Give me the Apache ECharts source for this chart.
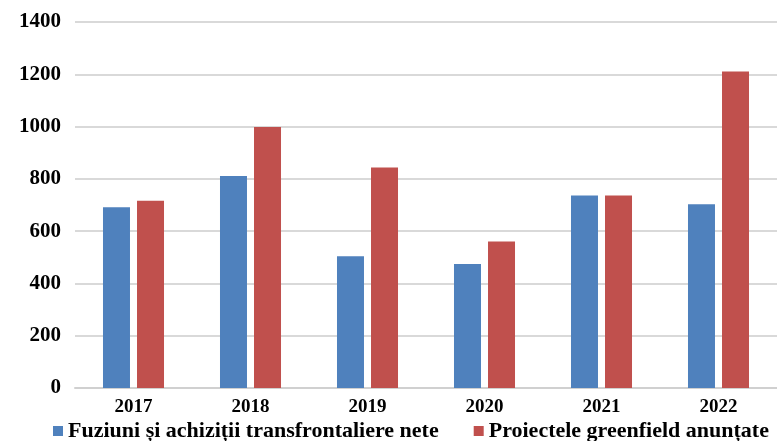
<!DOCTYPE html>
<html>
<head>
<meta charset="utf-8">
<script src="https://cdn.jsdelivr.net/npm/echarts@6/dist/echarts.min.js"></script>
<style>
  html, body { margin: 0; padding: 0; background: #fff; }
  #chart { width: 777px; height: 441px; }
</style>
</head>
<body>
<div id="chart"></div>
<script>
// Date
const years = ["2017", "2018", "2019", "2020", "2021", "2022"];
const fuziuni = [691, 811, 504, 474, 736, 703];
const greenfield = [716, 998, 843, 560, 736, 1211];
const seriesNames = ["Fuziuni și achiziții transfrontaliere nete", "Proiectele greenfield anunțate"];

const fontSerif = "'Liberation Serif', 'Times New Roman', serif";

const chart = echarts.init(document.getElementById("chart"));
chart.setOption({
  animation: false,
  textStyle: { fontFamily: fontSerif },
  grid: { left: 75, width: 705, top: 22, bottom: 53 },
  legend: {
    data: seriesNames,
    left: 48,
    top: 415,
    itemWidth: 10,
    itemHeight: 10,
    itemGap: 35,
    icon: "rect",
    textStyle: { fontFamily: fontSerif, fontWeight: "bold", fontSize: 22, color: "#000" }
  },
  xAxis: {
    type: "category",
    data: years,
    axisLine: { lineStyle: { color: "#d0d0d0", width: 2 } },
    axisTick: { show: false },
    axisLabel: { fontFamily: fontSerif, fontWeight: "bold", fontSize: 19, color: "#000", margin: 10 }
  },
  yAxis: {
    type: "value",
    min: 0,
    max: 1400,
    interval: 200,
    axisLine: { show: false },
    axisTick: { show: false },
    splitLine: { lineStyle: { color: "#d9d9d9", width: 2 } },
    axisLabel: {
      fontFamily: fontSerif, fontWeight: "bold", fontSize: 21, color: "#000", margin: 14,
      formatter: v => String(v)
    }
  },
  series: [
    {
      name: seriesNames[0],
      type: "bar",
      data: fuziuni,
      barWidth: 27,
      barGap: "26%",
      itemStyle: { color: "#4F81BD" }
    },
    {
      name: seriesNames[1],
      type: "bar",
      data: greenfield,
      barWidth: 27,
      itemStyle: { color: "#C0504D" }
    }
  ]
});
</script>
</body>
</html>
